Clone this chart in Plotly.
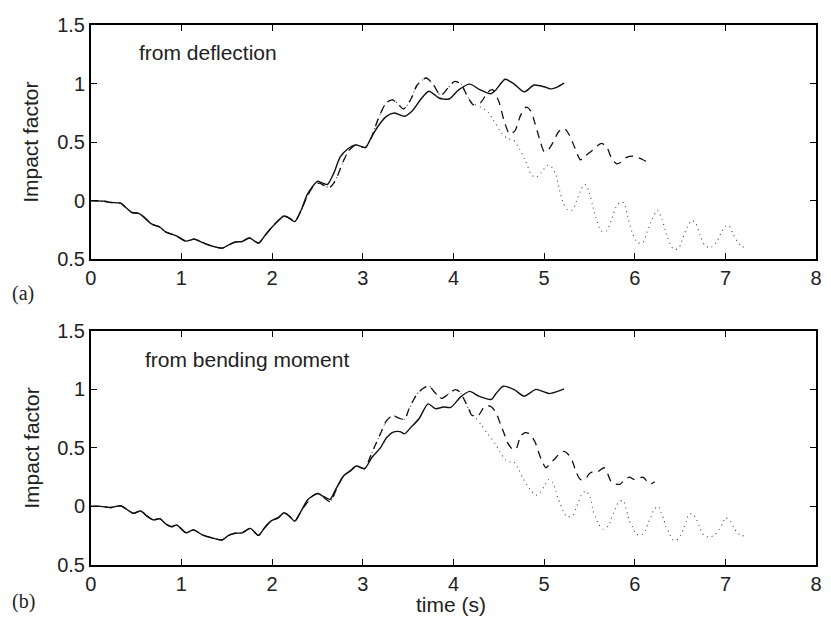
import plotly.graph_objects as go

# ---------------- Panel (a): from deflection ----------------
t_a_solid = [0.00, 0.15, 0.22, 0.33, 0.38, 0.45, 0.53, 0.58, 0.67, 0.76, 0.83, 0.94,
             1.05, 1.14, 1.23, 1.34, 1.45, 1.52, 1.59, 1.67, 1.75, 1.85, 1.92, 1.99,
             2.07, 2.13, 2.19, 2.25, 2.32, 2.39, 2.50, 2.55, 2.61, 2.68, 2.75, 2.83,
             2.92, 3.03, 3.10, 3.19, 3.26, 3.35, 3.46, 3.55, 3.64, 3.73, 3.84, 3.95,
             4.06, 4.18, 4.29, 4.41, 4.47, 4.57, 4.67, 4.78, 4.89, 5.00, 5.07, 5.15, 5.22]
v_a_solid = [0.000, -0.005, -0.016, -0.022, -0.055, -0.100, -0.110, -0.137, -0.200, -0.226, -0.270, -0.300,
             -0.347, -0.330, -0.358, -0.390, -0.407, -0.380, -0.355, -0.350, -0.320, -0.364, -0.300, -0.234,
             -0.170, -0.132, -0.150, -0.180, -0.083, 0.055, 0.165, 0.152, 0.138, 0.235, 0.372, 0.440,
             0.477, 0.455, 0.551, 0.660, 0.722, 0.750, 0.722, 0.772, 0.868, 0.937, 0.879, 0.870,
             0.950, 0.998, 0.950, 0.915, 0.950, 1.039, 0.998, 0.931, 0.990, 0.975, 0.957, 0.975, 1.006]

# part shared by dashed and dotted curves (after they leave the solid one)
t_a_shared = [2.39, 2.46, 2.52, 2.57, 2.63, 2.68, 2.72, 2.79, 2.85, 2.92, 3.03, 3.10,
              3.17, 3.26, 3.33, 3.39, 3.45, 3.53, 3.60, 3.70, 3.78, 3.86, 3.94, 4.01, 4.08]
v_a_shared = [0.040, 0.130, 0.150, 0.130, 0.110, 0.150, 0.210, 0.345, 0.430, 0.475, 0.455, 0.550,
              0.700, 0.840, 0.862, 0.826, 0.785, 0.868, 0.990, 1.050, 0.990, 0.900, 0.965, 1.020, 1.000]

t_a_dash = [4.15, 4.22, 4.30, 4.38, 4.43, 4.50, 4.56, 4.62, 4.68, 4.74, 4.80, 4.85,
            4.90, 4.96, 5.00, 5.04, 5.10, 5.16, 5.22, 5.28, 5.34, 5.40, 5.45, 5.53,
            5.63, 5.69, 5.74, 5.80, 5.85, 5.91, 5.99, 6.09, 6.18]
v_a_dash = [0.900, 0.820, 0.840, 0.930, 0.950, 0.850, 0.680, 0.570, 0.600, 0.730, 0.800, 0.770,
            0.660, 0.500, 0.420, 0.430, 0.500, 0.590, 0.620, 0.560, 0.450, 0.350, 0.380, 0.430,
            0.490, 0.460, 0.370, 0.315, 0.330, 0.370, 0.380, 0.350, 0.310]

t_a_dot = [4.155, 4.22, 4.30, 4.38, 4.44, 4.53, 4.60, 4.66, 4.73, 4.80, 4.86, 4.91,
           4.97, 5.03, 5.08, 5.13, 5.17, 5.21, 5.26, 5.31, 5.36, 5.41, 5.45, 5.49,
           5.53, 5.57, 5.63, 5.69, 5.74, 5.79, 5.84, 5.88, 5.92, 5.97, 6.03, 6.09,
           6.14, 6.19, 6.25, 6.30, 6.35, 6.40, 6.44, 6.49, 6.53, 6.58, 6.63, 6.67,
           6.72, 6.77, 6.83, 6.90, 6.95, 7.00, 7.04, 7.08, 7.13, 7.18, 7.22]
v_a_dot = [0.890, 0.830, 0.800, 0.760, 0.690, 0.580, 0.530, 0.520, 0.440, 0.330, 0.220, 0.200,
           0.240, 0.300, 0.290, 0.220, 0.090, -0.020, -0.080, -0.080, 0.000, 0.100, 0.140, 0.090,
           -0.025, -0.145, -0.260, -0.260, -0.170, -0.060, -0.013, -0.020, -0.130, -0.270, -0.360, -0.360,
           -0.260, -0.160, -0.083, -0.160, -0.290, -0.390, -0.420, -0.400, -0.320, -0.225, -0.170, -0.190,
           -0.295, -0.380, -0.405, -0.357, -0.280, -0.220, -0.215, -0.280, -0.350, -0.390, -0.405]

# ---------------- Panel (b): from bending moment ----------------
t_b_solid = [0.00, 0.11, 0.22, 0.33, 0.40, 0.47, 0.55, 0.62, 0.69, 0.76, 0.83, 0.89,
             0.95, 1.05, 1.13, 1.23, 1.34, 1.45, 1.52, 1.59, 1.67, 1.76, 1.85, 1.92,
             1.99, 2.07, 2.13, 2.19, 2.25, 2.32, 2.39, 2.50, 2.57, 2.64, 2.70, 2.79,
             2.86, 2.93, 3.02, 3.10, 3.19, 3.26, 3.33, 3.41, 3.46, 3.53, 3.62, 3.72,
             3.80, 3.89, 3.97, 4.08, 4.18, 4.28, 4.42, 4.47, 4.55, 4.67, 4.78, 4.91,
             5.00, 5.06, 5.13, 5.22]
v_b_solid = [0.000, 0.000, -0.010, 0.005, -0.027, -0.060, -0.040, -0.083, -0.116, -0.105, -0.152, -0.174,
             -0.160, -0.226, -0.201, -0.243, -0.270, -0.287, -0.248, -0.230, -0.226, -0.188, -0.248, -0.180,
             -0.124, -0.096, -0.055, -0.083, -0.127, -0.040, 0.055, 0.110, 0.083, 0.060, 0.143, 0.262,
             0.303, 0.345, 0.322, 0.418, 0.495, 0.584, 0.633, 0.639, 0.620, 0.675, 0.749, 0.876,
             0.835, 0.849, 0.846, 0.936, 0.983, 0.942, 0.914, 0.964, 1.027, 0.997, 0.942, 1.000,
             0.978, 0.964, 0.978, 1.005]

t_b_shared = [2.45, 2.52, 2.58, 2.64, 2.72, 2.79, 2.86, 2.93, 3.02, 3.08, 3.13, 3.21,
              3.26, 3.33, 3.39, 3.46, 3.51, 3.59, 3.66, 3.73, 3.79, 3.87, 3.95, 4.02, 4.07]
v_b_shared = [0.090, 0.110, 0.070, 0.040, 0.165, 0.262, 0.300, 0.345, 0.322, 0.420, 0.510, 0.647,
              0.730, 0.776, 0.757, 0.743, 0.832, 0.950, 1.005, 1.030, 0.978, 0.923, 0.964, 0.997, 0.978]

t_b_dash = [4.12, 4.17, 4.20, 4.24, 4.28, 4.33, 4.38, 4.42, 4.47, 4.52, 4.56, 4.60,
            4.65, 4.69, 4.74, 4.79, 4.84, 4.90, 4.94, 4.98, 5.02, 5.06, 5.11, 5.17,
            5.22, 5.26, 5.31, 5.35, 5.40, 5.45, 5.50, 5.55, 5.60, 5.66, 5.70, 5.74,
            5.79, 5.84, 5.89, 5.94, 5.99, 6.04, 6.09, 6.13, 6.17, 6.22]
v_b_dash = [0.910, 0.830, 0.780, 0.770, 0.780, 0.840, 0.860, 0.850, 0.800, 0.700, 0.620, 0.540,
            0.490, 0.490, 0.600, 0.630, 0.620, 0.550, 0.460, 0.380, 0.330, 0.360, 0.400, 0.450,
            0.470, 0.450, 0.390, 0.300, 0.230, 0.230, 0.280, 0.300, 0.300, 0.330, 0.280, 0.210,
            0.190, 0.190, 0.230, 0.250, 0.230, 0.240, 0.250, 0.220, 0.190, 0.210]

t_b_dot = [4.12, 4.17, 4.23, 4.31, 4.38, 4.46, 4.51, 4.57, 4.62, 4.66, 4.71, 4.76,
           4.84, 4.91, 4.96, 5.00, 5.05, 5.09, 5.13, 5.15, 5.18, 5.21, 5.25, 5.32,
           5.35, 5.38, 5.41, 5.46, 5.51, 5.54, 5.57, 5.60, 5.65, 5.71, 5.74, 5.77,
           5.82, 5.87, 5.92, 5.94, 5.98, 6.01, 6.08, 6.12, 6.15, 6.18, 6.21, 6.26,
           6.29, 6.32, 6.34, 6.38, 6.41, 6.46, 6.51, 6.54, 6.57, 6.59, 6.64, 6.68,
           6.71, 6.74, 6.78, 6.83, 6.88, 6.93, 6.97, 7.00, 7.05, 7.09, 7.14, 7.18, 7.22]
v_b_dot = [0.910, 0.830, 0.770, 0.694, 0.620, 0.537, 0.468, 0.400, 0.380, 0.385, 0.330, 0.248,
           0.151, 0.096, 0.120, 0.170, 0.230, 0.210, 0.132, 0.074, 0.019, -0.039, -0.088, -0.074,
           -0.017, 0.040, 0.096, 0.132, 0.077, -0.039, -0.097, -0.152, -0.196, -0.166, -0.105, -0.050,
           0.035, 0.050, -0.066, -0.124, -0.179, -0.235, -0.243, -0.200, -0.138, -0.088, -0.027, 0.000,
           -0.055, -0.110, -0.174, -0.226, -0.281, -0.290, -0.243, -0.182, -0.124, -0.072, -0.064, -0.110,
           -0.166, -0.226, -0.256, -0.262, -0.243, -0.200, -0.146, -0.097, -0.124, -0.179, -0.234, -0.248, -0.256]

x_ticks = [0, 1, 2, 3, 4, 5, 6, 7, 8]
y_ticks = [-0.5, 0, 0.5, 1, 1.5]
y_tick_text = ["0.5", "0", "0.5", "1", "1.5"]

panel_texts = ["from deflection", "from bending moment"]

W, H = 831, 627
FONT = "Liberation Sans, Arial, Helvetica, sans-serif"


def series(t_solid, v_solid, t_sh, v_sh, t_tail, v_tail):
    n = sum(1 for t in t_solid if t <= 2.33)
    return (t_solid[:n] + t_sh + t_tail, v_solid[:n] + v_sh + v_tail)


fig = go.Figure()

panels = [
    ("x", "y", t_a_solid, v_a_solid, t_a_shared, v_a_shared, t_a_dash, v_a_dash, t_a_dot, v_a_dot),
    ("x2", "y2", t_b_solid, v_b_solid, t_b_shared, v_b_shared, t_b_dash, v_b_dash, t_b_dot, v_b_dot),
]

for xa, ya, ts, vs, tsh, vsh, td, vd, tdo, vdo in panels:
    tx, vx = series(ts, vs, tsh, vsh, tdo, vdo)
    fig.add_trace(go.Scatter(x=tx, y=vx, xaxis=xa, yaxis=ya, mode="lines",
                             line=dict(color="#444444", width=1.1, dash="1px,4px",
                                       shape="spline", smoothing=0.7),
                             showlegend=False, hoverinfo="skip"))
    tx, vx = series(ts, vs, tsh, vsh, td, vd)
    fig.add_trace(go.Scatter(x=tx, y=vx, xaxis=xa, yaxis=ya, mode="lines",
                             line=dict(color="#111111", width=1.3, dash="8px,6px",
                                       shape="spline", smoothing=0.7),
                             showlegend=False, hoverinfo="skip"))
    fig.add_trace(go.Scatter(x=ts, y=vs, xaxis=xa, yaxis=ya, mode="lines",
                             line=dict(color="#111111", width=1.4,
                                       shape="spline", smoothing=0.7),
                             showlegend=False, hoverinfo="skip"))

x_dom = [86 / W, 822 / W]
top_dom = [1 - 257 / H, 1 - 15 / H]
bot_dom = [1 - 574 / H, 1 - 331.5 / H]

axis_common = dict(showline=True, linecolor="black", linewidth=1.5, mirror="ticks",
                   ticks="inside", ticklen=6, tickwidth=1, tickcolor="black",
                   showgrid=False, zeroline=False,
                   tickfont=dict(family=FONT, size=20, color="#222222"))

fig.update_layout(
    width=W, height=H,
    margin=dict(l=0, r=0, t=0, b=0),
    paper_bgcolor="white", plot_bgcolor="white",
    xaxis=dict(domain=x_dom, anchor="y", range=[0, 8], tickvals=x_ticks, **axis_common),
    yaxis=dict(domain=top_dom, anchor="x", range=[-0.5, 1.5], tickvals=y_ticks,
               ticktext=y_tick_text, **axis_common),
    xaxis2=dict(domain=x_dom, anchor="y2", range=[0, 8], tickvals=x_ticks, **axis_common),
    yaxis2=dict(domain=bot_dom, anchor="x2", range=[-0.5, 1.5], tickvals=y_ticks,
                ticktext=y_tick_text, **axis_common),
)

ann_font = dict(family=FONT, size=21, color="#222222")
serif = dict(family="Liberation Serif, Times New Roman, serif", size=20, color="#222222")

annotations = [
    dict(text=panel_texts[0], x=133 / W, y=1 - 43 / H, xanchor="left", yanchor="middle", font=ann_font),
    dict(text=panel_texts[1], x=139 / W, y=1 - 361 / H, xanchor="left", yanchor="middle", font=ann_font),
    dict(text="Impact factor", x=25 / W, y=1 - 136 / H, textangle=-90, xanchor="center", yanchor="middle", font=ann_font),
    dict(text="Impact factor", x=25 / W, y=1 - 453 / H, textangle=-90, xanchor="center", yanchor="middle", font=ann_font),
    dict(text="time (s)", x=452 / W, y=1 - 615 / H, xanchor="center", yanchor="middle", font=ann_font),
    dict(text="(a)", x=4 / W, y=1 - 293 / H, xanchor="left", yanchor="middle", font=serif),
    dict(text="(b)", x=4 / W, y=1 - 612 / H, xanchor="left", yanchor="middle", font=serif),
]
for a in annotations:
    a.update(xref="paper", yref="paper", showarrow=False)
fig.update_layout(annotations=annotations)

fig.write_html("out.html")
